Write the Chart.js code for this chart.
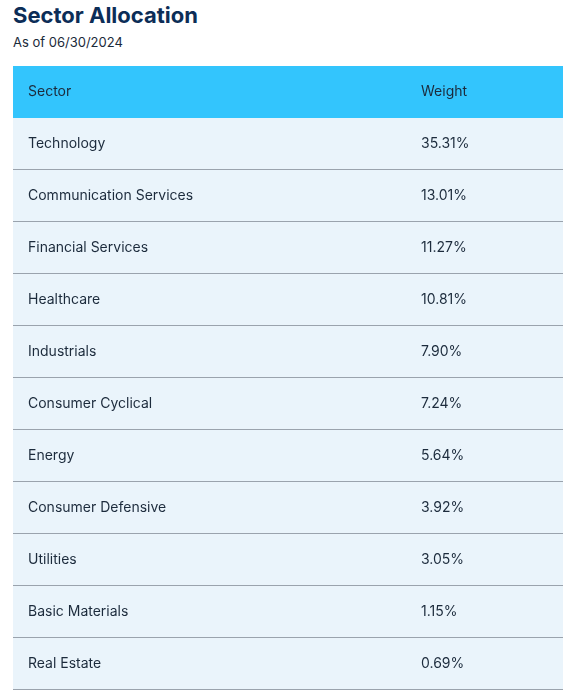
<!DOCTYPE html>
<html><head><meta charset="utf-8">
<script src="https://cdn.jsdelivr.net/npm/chart.js@4"></script>
<style>
body{margin:0;background:#fff;font-family:Inter,"Noto Sans",sans-serif;}
#title{position:absolute;left:13px;top:0px;font-size:22px;font-weight:700;color:#0c2d57;line-height:30px;}
#sub{position:absolute;left:13px;top:34px;font-size:13px;color:#1b2a3a;}
#wrap{position:absolute;left:13px;top:66px;width:550px;height:624px;}
</style></head><body>
<div id="title">Sector Allocation</div>
<div id="sub">As of 06/30/2024</div>
<div id="wrap"><canvas id="c"></canvas></div>
<script>
const headers = ["Sector","Weight"];
const sectors = ["Technology","Communication Services","Financial Services","Healthcare","Industrials","Consumer Cyclical","Energy","Consumer Defensive","Utilities","Basic Materials","Real Estate"];
const weights = [35.31,13.01,11.27,10.81,7.90,7.24,5.64,3.92,3.05,1.15,0.69];

const rows = [headers[0]].concat(sectors);
const tablePlugin = {
  id:'table',
  beforeDatasetsDraw(chart){
    const ctx = chart.ctx, y = chart.scales.y, a = chart.chartArea;
    const band = (y.getPixelForValue(1) - y.getPixelForValue(0));
    ctx.save();
    rows.forEach((r,i)=>{
      const cy = y.getPixelForValue(i);
      const top = cy - band/2;
      ctx.fillStyle = i===0 ? '#33c5fd' : '#eaf4fb';
      ctx.fillRect(a.left, top, a.right-a.left, band);
      if(i>0){
        ctx.fillStyle='#9aa3ad';
        ctx.fillRect(a.left, top+band-1, a.right-a.left, 1);
      }
      ctx.fillStyle = '#1c2b3c';
      ctx.font = '14px Inter, "Noto Sans", sans-serif';
      ctx.textBaseline='middle';
      ctx.fillText(r, a.left+15, cy);
      const w = i===0 ? headers[1] : weights[i-1].toFixed(2)+'%';
      ctx.fillText(w, a.left+408, cy);
    });
    ctx.restore();
  }
};
new Chart(document.getElementById('c'),{
  type:'bar',
  data:{labels:rows,datasets:[{data:[0].concat(weights),backgroundColor:'rgba(0,0,0,0)'}]},
  options:{indexAxis:'y',responsive:true,maintainAspectRatio:false,animation:false,
    layout:{padding:0},
    plugins:{legend:{display:false},tooltip:{enabled:false}},
    scales:{x:{display:false},y:{display:false,offset:true}}},
  plugins:[tablePlugin]
});
</script></body></html>
